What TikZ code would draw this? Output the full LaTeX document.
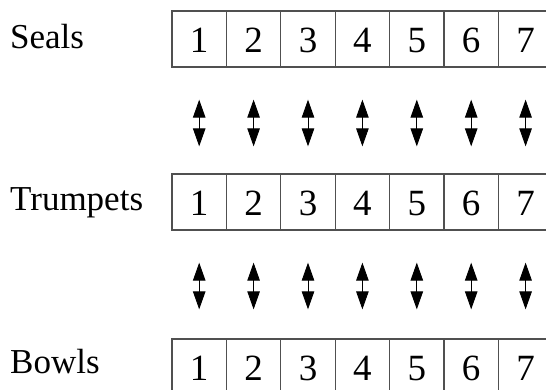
\documentclass[tikz,border=0pt]{standalone}
\usepackage{fontspec}
\setmainfont{Liberation Serif}
\usetikzlibrary{arrows.meta}
\definecolor{boxline}{HTML}{505050}
\tikzset{
  cell/.style={draw=boxline, line width=1.3pt, minimum width=54.4pt, minimum height=56pt,
    inner sep=0pt, text height=27pt, text depth=0pt, font=\fontsize{37}{37}\selectfont},
  rowlabel/.style={anchor=base west, inner sep=0pt, font=\fontsize{35}{35}\selectfont},
  dbl/.style={{Triangle[width=12.5pt,length=18pt]}-{Triangle[width=12.5pt,length=18pt]}, line width=0.9pt, black}
}
\begin{document}
\begin{tikzpicture}[x=1pt,y=-1pt]
\clip (0,0) rectangle (546,389);
\fill[white] (0,0) rectangle (546,389);
\node[rowlabel] (seals) at (10,48) {Seals};
\node[rowlabel] (trumpets) at (10,210) {Trumpets};
\node[rowlabel] (bowls) at (10,373) {Bowls};
\foreach \i in {1,...,7}{
  \pgfmathsetmacro{\cx}{172+54.4*(\i-0.5)}
  \node[cell] (s\i) at (\cx,39) {\i};
  \node[cell] (t\i) at (\cx,202) {\i};
  \node[cell] (b\i) at (\cx,367) {\i};
  \draw[dbl, shorten <=32pt, shorten >=27pt] (s\i) -- (t\i);
  \draw[dbl, shorten <=32pt, shorten >=29pt] (t\i) -- (b\i);
}
\end{tikzpicture}
\end{document}
